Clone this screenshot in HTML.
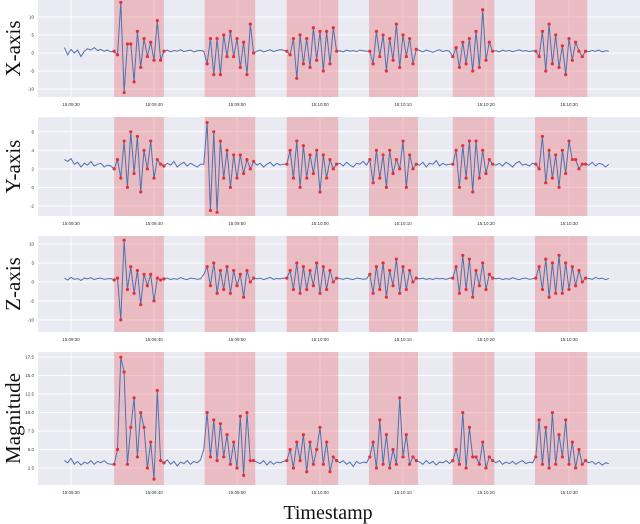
<!DOCTYPE html>
<html><head><meta charset="utf-8"><style>
html,body{margin:0;padding:0;background:#fff;}
svg{display:block;font-family:"Liberation Sans",sans-serif;}
</style></head><body>
<svg id="c" width="640" height="524" viewBox="0 0 640 524"></svg>
<script>
// time axis (seconds after 15:09:30), sampled every 0.4s
const tickLabels=["15:09:30","15:09:40","15:09:50","15:10:00","15:10:10","15:10:20","15:10:30"];
const tickTimes=[0,10,20,30,40,50,60];
const regions=[[5.2,11.2],[16.1,22.2],[26.0,32.2],[35.9,41.8],[46.0,51.0],[55.9,62.2]];
const seriesX=[1.5,-0.5,1,0,0.8,-1,0.5,1.2,0.8,1.5,0.7,1,0.5,0.8,0.3,
0.5,-0.5,14,-11,2.5,2.5,-8,6,-4,4,-1,3,-2,9,-2,
0.5,0.8,0.3,0.7,0.5,0.9,0.4,0.6,0.8,0.3,0.6,0.7,
0.5,-3,4,-6,4,-6,5,-1,6,-1,4,-4,3,-6,8,0,
0.5,0.8,0.3,0.6,0.9,0.4,0.7,0.9,0.8,
0.5,-0.5,4,-7,5,-3,4,-4,7,-2,6,-5,6,-3,7,0.5,
0.6,0.3,0.8,0.5,0.7,0.4,0.8,0.6,0.5,
0.5,-3,6,-1,5,-5,4,-2,8,-4,5,-1,4,-3,1,
0.7,0.3,0.8,0.5,0.2,0.6,0.9,0.4,0.7,0.5,
-1,1.5,-4,3,-3,4,-5,6,-4,12,-2,3,0.5,
0.6,0.3,0.8,0.5,0.7,0.4,0.6,0.9,0.5,0.7,0.4,0.6,
0.5,-1,6,-5,8,-3,5,-4,2,-6,4,-2,3,0.5,-1,0.5,
0.4,0.7,0.5,0.8,0.3,0.6,0.5];
const seriesY=[3,2.8,3.1,2.5,2.7,2.2,2.6,2.4,2.8,2.3,2.5,2.6,2.2,2.4,2.3,
2,3,1,5,0,6,1.5,5.5,-0.5,4,2,5,1,3,2.5,
2.3,2.6,2.4,2.8,2.2,2.5,2.7,2.3,2.6,2.4,2.2,2.5,
2.5,7,-2.5,6,-2.7,5,1,4,0,3.5,1,3.5,1.5,3,2,2.8,
2.4,2.6,2.2,2.5,2.7,2.3,2.6,2.4,2.5,
2.5,4,1,5,0,4.5,1,3.5,1.5,4,-0.5,3.5,1,3,2,2.5,
2.6,2.3,2.7,2.4,2.2,2.6,2.5,2.8,2.4,
3,0.5,4,1,3.5,0,4,1.5,3,2,5,0,3.5,2,2.5,
2.4,2.7,2.2,2.6,2.5,2.9,2.3,2.6,2.4,2.5,
2.5,4,0,4.5,1,5,-0.5,5,1,4,1.5,3,2.5,
2.4,2.6,2.3,2.7,2.5,2.2,2.6,2.8,2.4,2.5,2.3,2.6,
2.5,2,5.5,0.5,4,1,3.5,0,4,1.5,5,3,3,2,2.5,2.5,
2.4,2.7,2.3,2.6,2.5,2.2,2.5];
const seriesZ=[1,0.5,1.2,0.7,0.9,0.4,1,0.8,1.1,0.6,0.9,1,0.7,0.8,0.9,
0.5,1,-10,11,-2,4,-3,3,-6,2,-1,2,-5,1,0.5,
0.8,1,0.6,0.9,0.7,1.1,0.8,0.6,1,0.9,0.7,0.8,
2,4,-1,5,-3,3,-2,4,-3,3,-1,2,-4,3,0,1,
0.8,1,0.6,0.9,1.2,0.7,0.9,0.8,1,
1,3,-2,5,-3,4,-2,3,-1,5,-3,4,-2,3,0,1,
0.9,0.7,1,0.8,0.6,1,0.9,0.7,0.8,
2,-3,4,-2,5,-4,3,-1,6,-3,4,-2,3,0,1,
0.8,1,0.7,0.9,0.6,1,0.8,0.9,0.7,1,
1,4,-3,7,-2,6,-4,3,-1,5,-2,2,1,
0.8,1,0.6,0.9,0.7,1.1,0.8,0.6,0.9,1,0.7,0.8,
1,4,-2,6,-4,5,-3,7,-3,5,-2,4,-1,3,0,1,
0.9,0.7,1.2,0.8,1,0.6,0.9];
const seriesM=[3.5,3.2,3.8,3,3.4,2.9,3.3,3.1,3.5,3,3.4,3.2,3.5,3.1,3,
3,5,17.5,15.5,3,8,12,4,10,8,2.5,6,1,13,3.5,
3.2,3.6,3,3.4,2.8,3.3,3.1,3.5,3,3.4,3.2,3.6,
5,10,4,9,3.5,8.5,4,7,3,6,2.5,9.5,1.5,10,3.5,3.5,
3.3,3.1,3.5,2.9,3.4,3,3.3,3.2,3.4,
3.5,5,2.5,6,3.5,7,2,6,3,5,8,3,6,2,4,3.5,
3.2,3.5,3,3.3,2.7,3.4,3.1,3.3,3.2,
4,6,2.5,9,3,7,2.5,5,3,12,4,7,3,4,3.5,
3.3,3,3.5,3.1,3.4,2.9,3.3,3.2,3.5,3.1,
3.5,5,3,10,2.5,8,4,4,3,6,2.5,4,3.5,
3.2,3.5,3,3.3,3.1,3.4,3,3.3,3.5,3.1,3.3,3.2,
4,9,3,8,2.5,10,3,7,4,9,3,6,2.5,5,3,3.5,
3.2,3.4,3,3.3,2.9,3.2,3.1];
const ticksX=[10,5,0,-5,-10], ticksY=[6,4,2,0,-2], ticksZ=[10,5,0,-5,-10], ticksM=[17.5,15,12.5,10,7.5,5,2.5];

const NS="http://www.w3.org/2000/svg", svg=document.getElementById('c');
function mk(tag,at,parent){const e=document.createElementNS(NS,tag);for(const k in at)e.setAttribute(k,at[k]);(parent||svg).appendChild(e);return e;}
const X0=38,X1=640;
function xs(t){return 71+t*8.3;}
const t0=-0.8,dt=0.4;
function panel(name,label,top,bottom,vTop,vBot,data,ticks,fmt){
  const g=mk('g',{});
  
  
  const ys=v=>top+(vTop-v)/(vTop-vBot)*(bottom-top);
  const bg=mk('rect',{x:X0,y:top,width:X1-X0,height:bottom-top,fill:'#eaeaf2'},g);
  
  
  ticks.forEach(v=>{
    const l=mk('line',{x1:X0,x2:X1,y1:ys(v),y2:ys(v),stroke:'#fff','stroke-width':1},g);
    
    
    const tx=mk('text',{x:X0-4,y:ys(v)+1.5,'font-size':4.5,'text-anchor':'end',fill:'#333'},g);
    tx.textContent=fmt(v);
    
    
  });
  tickTimes.forEach((t,i)=>{
    const l=mk('line',{x1:xs(t),x2:xs(t),y1:top,y2:bottom,stroke:'#fff','stroke-width':1},g);
    
    
    const tx=mk('text',{x:xs(t),y:bottom+9,'font-size':4.5,'text-anchor':'middle',fill:'#333'},g);
    tx.textContent=tickLabels[i];
    
    
  });
  regions.forEach(r=>{
    const s=mk('rect',{x:xs(r[0]),y:top,width:xs(r[1])-xs(r[0]),height:bottom-top,fill:'rgba(232,112,118,0.38)'},g);
    
    
  });
  const pts=data.map((v,i)=>[xs(t0+i*dt),ys(v)]);
  const p=mk('polyline',{points:pts.map(q=>q[0].toFixed(1)+','+q[1].toFixed(1)).join(' '),fill:'none',stroke:'#4c72b0','stroke-width':1},g);
  
  
  data.forEach((v,i)=>{
    const t=t0+i*dt;
    if(regions.some(r=>t>=r[0]-0.05&&t<=r[1]+0.05)){
      const c=mk('circle',{cx:pts[i][0],cy:pts[i][1],r:1.6,fill:'#e0323a'},g);
      
      
    }
  });
  const cy=(top+bottom)/2;
  const lab=mk('text',{x:20,y:cy,'font-size':21,'text-anchor':'middle',transform:'rotate(-90 20 '+cy+')','font-family':'Liberation Serif, serif',fill:'#111'},g);
  lab.textContent=label;
  
  
}
const f0=v=>String(v), f1=v=>v.toFixed(1);
panel('x-axis','X-axis',0,97,14.7,-12.2,seriesX,ticksX,f0);
panel('y-axis','Y-axis',117,216,7.6,-3.1,seriesY,ticksY,f0);
panel('z-axis','Z-axis',236,332,12.1,-13.2,seriesZ,ticksZ,f0);
panel('magnitude','Magnitude',352,485,18.2,0.2,seriesM,ticksM,f1);
const xt=mk('text',{x:328,y:519,'font-size':20,'text-anchor':'middle','font-family':'Liberation Serif, serif',fill:'#111'});
xt.textContent='Timestamp';


</script>
</body></html>
